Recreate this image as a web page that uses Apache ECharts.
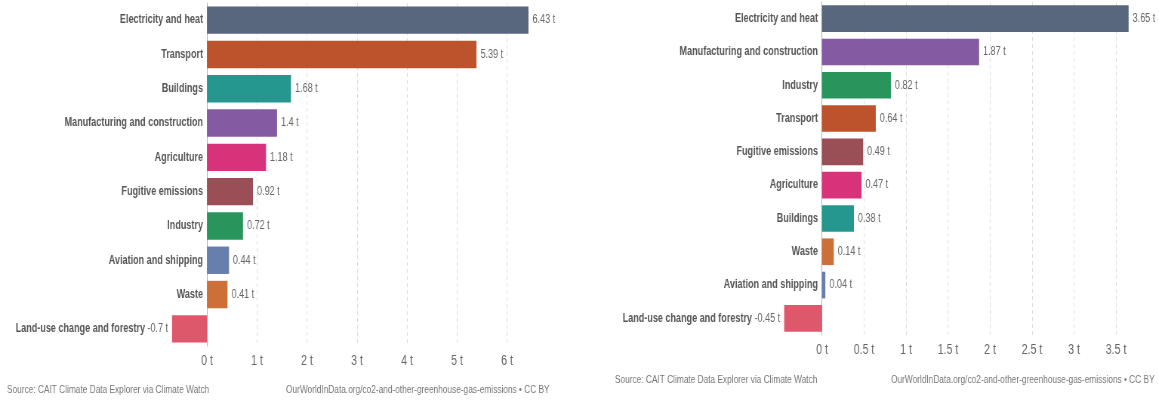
<!DOCTYPE html>
<html>
<head>
<meta charset="utf-8">
<script src="https://cdn.jsdelivr.net/npm/echarts@6/dist/echarts.min.js"></script>
<style>
html,body{margin:0;padding:0;background:#fff;overflow:hidden;width:1159px;height:405px;}
#chart{height:405px;transform-origin:0 0;}
</style>
</head>
<body>
<div id="chart"></div>
<script>
// ---- data ----
const leftCategories = ['Electricity and heat','Transport','Buildings','Manufacturing and construction','Agriculture','Fugitive emissions','Industry','Aviation and shipping','Waste','Land-use change and forestry'];
const leftValues = [6.43, 5.39, 1.68, 1.4, 1.18, 0.92, 0.72, 0.44, 0.41, -0.7];
const rightCategories = ['Electricity and heat','Manufacturing and construction','Industry','Transport','Fugitive emissions','Agriculture','Buildings','Waste','Aviation and shipping','Land-use change and forestry'];
const rightValues = [3.65, 1.87, 0.82, 0.64, 0.49, 0.47, 0.38, 0.14, 0.04, -0.45];
const sourceText = 'Source: CAIT Climate Data Explorer via Climate Watch';
const urlText = 'OurWorldInData.org/co2-and-other-greenhouse-gas-emissions \u2022 CC BY';
const unit = ' t';

const sectorColors = {
  'Electricity and heat': '#58667E',
  'Transport': '#BD532C',
  'Buildings': '#26978E',
  'Manufacturing and construction': '#845BA2',
  'Agriculture': '#D8327A',
  'Fugitive emissions': '#9A4E55',
  'Industry': '#28965C',
  'Aviation and shipping': '#677FAC',
  'Waste': '#CC7038',
  'Land-use change and forestry': '#DE586C'
};

// The reference typography is horizontally condensed; the chart is drawn wider and squeezed horizontally.
const S = 0.755;
const FONT = "'Liberation Sans', Arial, sans-serif";
function px(x){ return x / S; }

const el = document.getElementById('chart');
el.style.width = px(1159) + 'px';
el.style.transform = 'scaleX(' + S + ')';

function fmtNum(v){ return String(Math.round(v*100)/100); }

function yAxisFor(gridIndex, cats, vals, zeroOffset, negPad){
  return {
    type: 'category', gridIndex: gridIndex, data: cats, inverse: true,
    offset: -zeroOffset,
    axisLine: { show: true, onZero: false, lineStyle: { color: '#b0b0b0', width: 1 } },
    axisTick: { show: false },
    axisLabel: {
      margin: px(4), color: '#555', fontFamily: FONT, fontSize: 12, fontWeight: 'bold',
      formatter: function(name, idx){
        return vals[idx] < 0 ? '{neg|' + name + '}' : name;
      },
      rich: { neg: { padding: [0, negPad, 0, 0], color: '#555', fontFamily: FONT, fontSize: 12, fontWeight: 'bold' } }
    }
  };
}

function xAxisFor(gridIndex, min, max, interval){
  return {
    type: 'value', gridIndex: gridIndex, min: min, max: max, interval: interval,
    axisLine: { show: false }, axisTick: { show: false },
    axisLabel: {
      margin: 8, color: '#666', fontFamily: FONT, fontSize: 14,
      showMinLabel: false, showMaxLabel: false,
      formatter: function(v){
        if (v < 0) return '';
        if (Math.abs(v/interval - Math.round(v/interval)) > 1e-6) return '';
        return fmtNum(v) + unit;
      }
    },
    splitLine: { show: true, showMinLine: false, showMaxLine: false, lineStyle: { color: '#dedede', type: [4, 3], width: 1 } }
  };
}

function seriesFor(idx, cats, vals){
  return {
    type: 'bar', xAxisIndex: idx, yAxisIndex: idx,
    barCategoryGap: '20%',
    data: vals.map(function(v, i){
      return {
        value: v,
        itemStyle: { color: sectorColors[cats[i]] },
        label: { position: v < 0 ? 'left' : 'right' }
      };
    }),
    label: {
      show: true, distance: px(4), color: '#666', fontFamily: FONT, fontSize: 12,
      formatter: function(p){ return fmtNum(p.value) + unit; }
    },
    silent: true, animation: false
  };
}

const chart = echarts.init(el, null, { renderer: 'canvas' });
chart.setOption({
  animation: false,
  grid: [
    { left: px(157), top: 3, width: px(371.5), height: 343, containLabel: false, outerBoundsMode: 'none' },
    { left: px(780), top: 2, width: px(348.6), height: 333, containLabel: false, outerBoundsMode: 'none' }
  ],
  xAxis: [ xAxisFor(0, -1, 6.43, 1), xAxisFor(1, -0.5, 3.65, 0.5) ],
  yAxis: [ yAxisFor(0, leftCategories, leftValues, px(50), px(58)), yAxisFor(1, rightCategories, rightValues, px(42), px(66)) ],
  series: [ seriesFor(0, leftCategories, leftValues), seriesFor(1, rightCategories, rightValues) ],
  graphic: [
    { type: 'text', left: px(7), top: 384, style: { text: sourceText, fill: '#777', font: '11px ' + FONT } },
    { type: 'text', left: px(286), top: 384, style: { text: urlText, fill: '#777', font: '11px ' + FONT } },
    { type: 'text', left: px(615), top: 374, style: { text: sourceText, fill: '#777', font: '11px ' + FONT } },
    { type: 'text', left: px(891), top: 374, style: { text: urlText, fill: '#777', font: '11px ' + FONT } }
  ]
});
</script>
</body>
</html>
